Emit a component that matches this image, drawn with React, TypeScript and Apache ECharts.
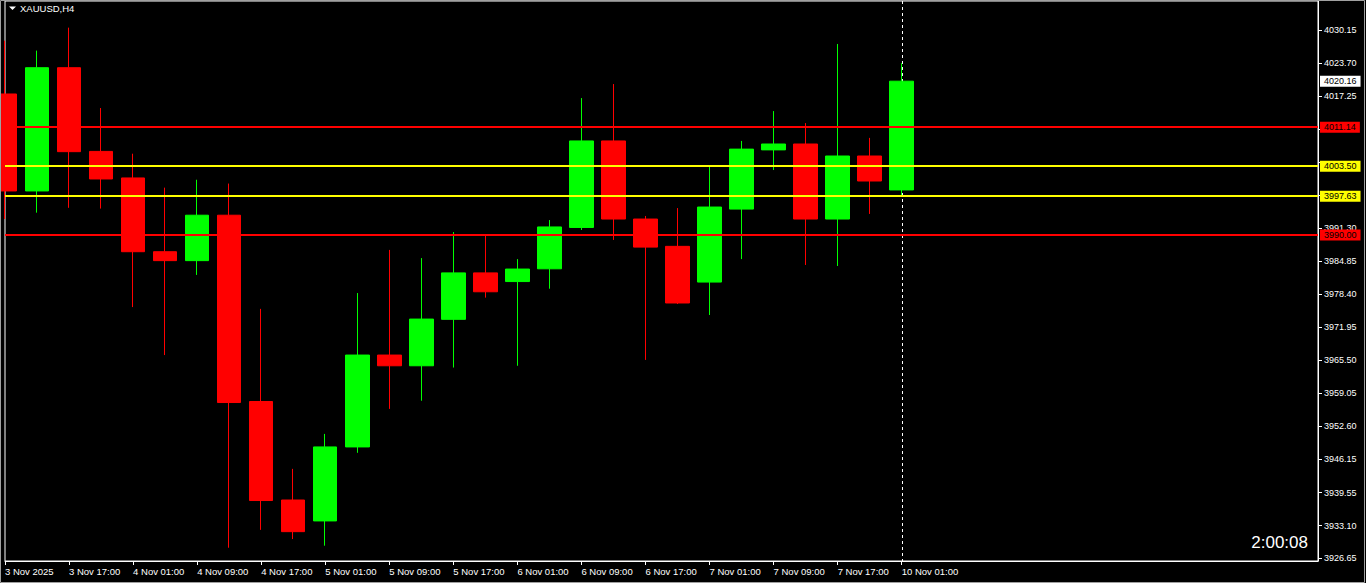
import React, { useEffect, useRef } from "react";
import * as echarts from "echarts";

// ---- data ----
const symbolTitle = "XAUUSD,H4";
const timerText = "2:00:08";

const candleTimes = [
  "2025.11.03 09:00", "2025.11.03 13:00", "2025.11.03 17:00", "2025.11.03 21:00",
  "2025.11.04 01:00", "2025.11.04 05:00", "2025.11.04 09:00", "2025.11.04 13:00",
  "2025.11.04 17:00", "2025.11.04 21:00", "2025.11.05 01:00", "2025.11.05 05:00",
  "2025.11.05 09:00", "2025.11.05 13:00", "2025.11.05 17:00", "2025.11.05 21:00",
  "2025.11.06 01:00", "2025.11.06 05:00", "2025.11.06 09:00", "2025.11.06 13:00",
  "2025.11.06 17:00", "2025.11.06 21:00", "2025.11.07 01:00", "2025.11.07 05:00",
  "2025.11.07 09:00", "2025.11.07 13:00", "2025.11.07 17:00", "2025.11.07 21:00",
  "2025.11.10 01:00",
];

const opens = [
  4017.65, 3998.65, 4022.8, 4006.4, 4001.2, 3986.75, 3985.0, 3993.9, 3957.4, 3938.1,
  3934.0, 3948.5, 3966.5, 3964.4, 3973.5, 3982.6, 3980.9, 3983.4, 3991.5, 4008.45,
  3993.15, 3987.8, 3980.8, 3995.1, 4006.7, 4007.85, 3993.15, 4005.5, 3998.85,
];
const closes = [
  3998.65, 4022.8, 4006.35, 4001.0, 3986.75, 3985.0, 3993.9, 3957.2, 3938.0, 3931.9,
  3948.5, 3966.5, 3964.4, 3973.55, 3982.6, 3978.9, 3983.35, 3991.6, 4008.45, 3993.15,
  3987.65, 3976.7, 3995.5, 4006.85, 4007.85, 3993.15, 4005.5, 4000.6, 4020.16,
];
const highs = [
  4028.1, 4026.15, 4030.65, 4014.9, 4005.95, 3999.3, 4000.85, 4000.1, 3975.55, 3944.2,
  3951.05, 3978.65, 3987.1, 3985.5, 3990.6, 3989.95, 3985.3, 3992.95, 4016.85, 4019.6,
  3993.75, 3995.3, 4003.4, 4008.45, 4014.3, 4011.95, 4027.45, 4009.05, 4023.7,
];
const lows = [
  3993.15, 3994.4, 3995.35, 3995.2, 3975.9, 3966.5, 3982.2, 3928.75, 3932.25, 3930.45,
  3929.15, 3947.35, 3955.95, 3957.55, 3964.05, 3977.75, 3964.4, 3979.5, 3991.0, 3989.05,
  3965.55, 3976.5, 3974.35, 3985.3, 4002.75, 3984.15, 3983.95, 3994.15, 3997.65,
];

// empty bar slots to the right of the last candle
const futureSlots = 13;

// labels at every second bar, starting at bar 0
const xTickLabels = [
  "3 Nov 2025", "3 Nov 17:00", "4 Nov 01:00", "4 Nov 09:00", "4 Nov 17:00",
  "5 Nov 01:00", "5 Nov 09:00", "5 Nov 17:00", "6 Nov 01:00", "6 Nov 09:00",
  "6 Nov 17:00", "7 Nov 01:00", "7 Nov 09:00", "7 Nov 17:00", "10 Nov 01:00",
];
const xLabelEvery = 2;

// all price-scale ticks; the labels of the ticks hidden behind level labels are left out
const yTicks = [
  3926.65, 3933.1, 3939.55, 3946.15, 3952.6, 3959.05, 3965.5, 3971.95, 3978.4,
  3984.85, 3991.3, 3997.8, 4004.25, 4010.75, 4017.25, 4023.7, 4030.15,
];
const yLabelTicks = [
  3926.65, 3933.1, 3939.55, 3946.15, 3952.6, 3959.05, 3965.5, 3971.95, 3978.4,
  3984.85, 3991.3, 4017.25, 4023.7, 4030.15,
];
const yMin = 3926.15;
const yMax = 4035.87;

const redLevels = [4011.14, 3990.0];
const yellowLevels = [4003.5, 3997.63];
const currentPrice = 4020.16;
const separatorIndex = 28;

const FONT = "'Liberation Sans', Arial, sans-serif";

export default function App() {
  const ref = useRef<HTMLDivElement>(null);

  useEffect(() => {
    if (!ref.current) return;
    document.body.style.margin = "0";
    document.body.style.background = "#000";
    const chart = echarts.init(ref.current, null, { renderer: "svg" });

    const categories = [
      ...candleTimes,
      ...Array.from({ length: futureSlots }, (_, i) => `slot+${i + 1}`),
    ];
    const candleData = opens.map((o, i) => [o, closes[i], lows[i], highs[i]]);

    const showTick = (index: number) =>
      index % xLabelEvery === 0 && index / xLabelEvery < xTickLabels.length;

    const levelItem = (v: number, color: string) => ({
      yAxis: v,
      lineStyle: { color, width: 2, type: "solid" },
      label: { backgroundColor: color },
    });

    const option: any = {
      animation: false,
      backgroundColor: "#000",
      grid: {
        left: 5,
        right: 48,
        top: 1,
        bottom: 22,
        show: true,
        borderColor: "#fff",
        borderWidth: 1,
        backgroundColor: "#000",
      },
      xAxis: {
        type: "category",
        data: categories,
        boundaryGap: false,
        axisLine: { show: true, lineStyle: { color: "#fff", width: 1 } },
        axisTick: {
          show: true,
          interval: (index: number) => showTick(index),
          length: 4,
          lineStyle: { color: "#fff" },
        },
        axisLabel: {
          interval: (index: number) => showTick(index),
          formatter: (_v: string, index: number) =>
            showTick(index) ? xTickLabels[index / xLabelEvery] : "",
          align: "left",
          margin: 5,
          color: "#fff",
          fontSize: 9.5,
          fontFamily: FONT,
        },
        splitLine: { show: false },
      },
      yAxis: {
        type: "value",
        position: "right",
        min: yMin,
        max: yMax,
        scale: true,
        axisLine: { show: true, lineStyle: { color: "#fff", width: 1 } },
        axisTick: {
          show: true,
          customValues: yTicks,
          length: 4,
          lineStyle: { color: "#fff" },
        },
        axisLabel: {
          customValues: yLabelTicks,
          formatter: (v: number) => v.toFixed(2),
          margin: 6,
          color: "#fff",
          fontSize: 9,
          fontFamily: FONT,
        },
        splitLine: { show: false },
      },
      graphic: [
        {
          type: "rect",
          z: 100,
          shape: { x: 0.5, y: 0.5, width: 1364, height: 582 },
          style: { fill: "none", stroke: "#a0a0a0", lineWidth: 1 },
          silent: true,
        },
        {
          type: "polygon",
          z: 100,
          shape: { points: [[9, 6.5], [16, 6.5], [12.5, 10]] },
          style: { fill: "#fff" },
          silent: true,
        },
        {
          type: "text",
          z: 100,
          x: 20,
          y: 8,
          style: {
            text: symbolTitle,
            fill: "#fff",
            font: `9.5px ${FONT}`,
            verticalAlign: "middle",
            align: "left",
          },
          silent: true,
        },
        {
          type: "text",
          z: 100,
          x: 1308,
          y: 542,
          style: {
            text: timerText,
            fill: "#fff",
            font: `17px ${FONT}`,
            verticalAlign: "middle",
            align: "right",
          },
          silent: true,
        },
      ],
      series: [
        {
          type: "custom",
          z: 1,
          silent: true,
          data: [[separatorIndex, currentPrice]],
          encode: { x: 0, y: 1 },
          renderItem: (params: any, api: any) => {
            const pt = api.coord([api.value(0), api.value(1)]);
            const cs = params.coordSys;
            const x = Math.round(pt[0]) + 0.5;
            return {
              type: "line",
              shape: { x1: x, y1: cs.y, x2: x, y2: cs.y + cs.height },
              style: { stroke: "#fff", lineWidth: 1, lineDash: [3, 3] },
            };
          },
        },
        {
          type: "candlestick",
          z: 2,
          clip: true,
          barWidth: 24,
          data: candleData,
          itemStyle: {
            color: "#00ff00",
            color0: "#ff0000",
            borderColor: "#00ff00",
            borderColor0: "#ff0000",
            borderWidth: 1,
          },
          markLine: {
            silent: true,
            symbol: ["none", "none"],
            animation: false,
            label: {
              show: true,
              position: "end",
              distance: 2,
              formatter: (p: any) => Number(p.value).toFixed(2),
              color: "#000",
              fontSize: 9,
              fontFamily: FONT,
              padding: [1, 4, 0, 4],
              lineHeight: 10,
            },
            data: [
              ...redLevels.map((v) => levelItem(v, "#ff0000")),
              ...yellowLevels.map((v) => levelItem(v, "#ffff00")),
              {
                yAxis: currentPrice,
                lineStyle: { color: "rgba(0,0,0,0)", width: 0 },
                label: { backgroundColor: "#ffffff" },
              },
            ],
          },
        },
      ],
    };

    chart.setOption(option);
    return () => chart.dispose();
  }, []);

  return (
    <div
      ref={ref}
      style={{
        position: "fixed",
        left: 0,
        top: 0,
        width: 1366,
        height: 583,
        background: "#000",
      }}
    />
  );
}
